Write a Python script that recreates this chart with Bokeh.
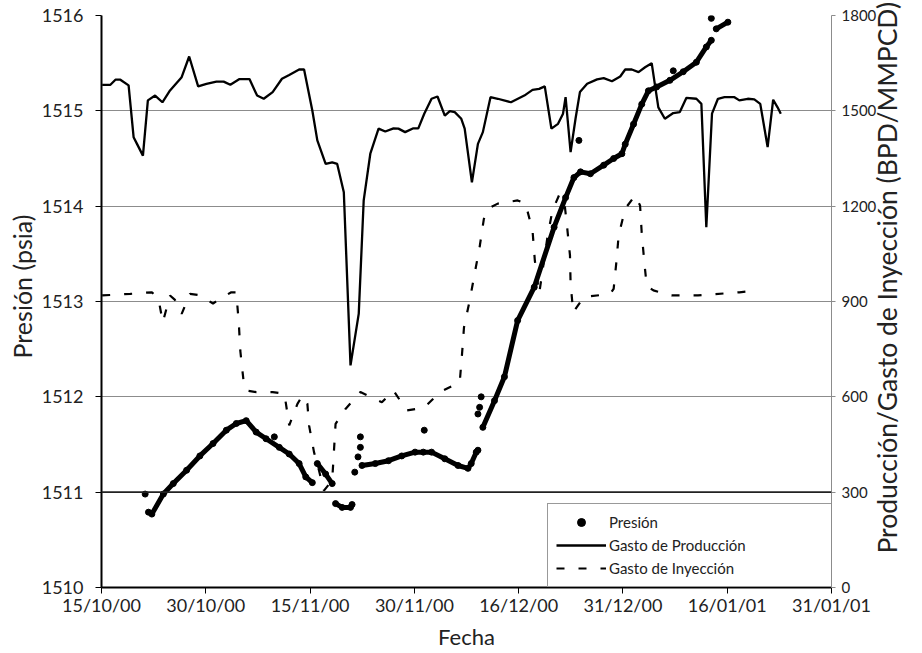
import math
from bokeh.plotting import figure
from bokeh.models import (Range1d, LinearAxis, FixedTicker, Legend, LegendItem, Span, Title)
from bokeh.embed import file_html
from bokeh.resources import INLINE

nan = float("nan")

# x axis: days since 15/10/00
tick_days = [0, 15.43, 30.86, 46.29, 61.71, 77.14, 92.57, 108]
tick_labels = ["15/10/00", "30/10/00", "15/11/00", "30/11/00", "16/12/00", "31/12/00", "16/01/01", "31/01/01"]
left_ticks = [1510, 1511, 1512, 1513, 1514, 1515, 1516]
right_ticks = [0, 300, 600, 900, 1200, 1500, 1800]

# Gasto de Producción (BPD)
prod_day = [0.1, 1.32, 2.06, 2.79, 4.01, 4.75, 5.25, 6.13, 6.86, 7.93, 9.01, 10.14, 11.86, 12.97, 14.3,
            15.53, 17.0, 18.07, 19.06, 20.42, 21.89, 23.02, 24.0, 25.32, 26.7, 27.77, 29.24, 29.97, 31.19,
            31.93, 33.16, 34.13, 34.87, 35.85, 36.84, 38.06, 38.79, 39.77, 40.99, 41.98, 43.2, 43.93, 44.92,
            46.14, 46.87, 47.75, 48.83, 49.71, 50.79, 51.53, 52.26, 53.23, 53.73, 54.8, 55.69, 56.42, 57.55,
            58.63, 60.58, 62.55, 63.77, 64.75, 65.58, 66.56, 67.54, 68.28, 68.66, 69.4, 70.13, 70.78, 71.85,
            73.32, 74.3, 75.52, 76.74, 77.48, 78.46, 79.45, 80.42, 81.4, 81.89, 82.38, 83.35, 84.59, 85.56,
            86.54, 88.01, 88.75, 89.48, 90.32, 91.2, 92.17, 93.64, 94.37, 95.61, 96.58, 97.46, 98.55, 99.37,
            100.02, 100.5]
prod_rate = [1582, 1582, 1598, 1598, 1580, 1417, 1396, 1359, 1533, 1548, 1527, 1564, 1606, 1671, 1577,
             1585, 1592, 1592, 1582, 1600, 1600, 1548, 1538, 1559, 1601, 1613, 1630, 1630, 1501,
             1407, 1333, 1338, 1333, 1244, 699, 862, 1218, 1365, 1444, 1435, 1445, 1444, 1433,
             1445, 1445, 1491, 1538, 1545, 1485, 1499, 1496, 1475, 1444, 1275, 1396, 1433, 1543,
             1538, 1527, 1548, 1566, 1569, 1577, 1444, 1459, 1491, 1543, 1370, 1475, 1559, 1585,
             1599, 1603, 1593, 1608, 1630, 1630, 1622, 1637, 1650, 1580, 1511, 1475, 1493, 1496,
             1541, 1538, 1522, 1134, 1491, 1538, 1543, 1543, 1533, 1538, 1536, 1522, 1386, 1535,
             1511, 1491]

# Gasto de Inyección (MMPCD)
inj_day = [0.1, 4.26, 7.45, 8.42, 9.07, 10.14, 10.87, 11.86, 13.08, 14.8, 16.5, 17.23, 19.2, 19.94, 20.32,
           20.53, 21.01, 21.41, 22.88, 25.32, 27.04, 27.29, 27.77, 28.99, 29.72, 30.46, 30.71, 31.44, 32.18,
           32.91, 34.13, 34.63, 36.1, 38.3, 41.48, 43.2, 45.15, 47.75, 50.06, 53.0, 53.34, 53.63, 54.47,
           55.2, 55.94, 56.57, 57.16, 58.63, 61.56, 62.78, 62.93, 63.77, 64.11, 64.75, 65.97, 66.71, 67.69,
           68.43, 68.91, 69.31, 69.4, 69.79, 71.36, 75.27, 75.77, 76.15, 76.51, 77.48, 78.95, 79.68, 79.93,
           80.33, 80.66, 81.65, 84.34, 88.26, 94.37, 97.08]
inj_rate = [919, 924, 929, 909, 835, 919, 905, 861, 924, 919, 893, 905, 929, 929, 830,
            746, 651, 620, 615, 615, 610, 578, 510, 578, 604, 578, 510, 426, 368,
            305, 337, 515, 562, 615, 583, 620, 557, 566, 615, 646, 735, 819, 903,
            987, 1071, 1160, 1192, 1208, 1218, 1208, 1192, 1123, 1029, 924, 1102, 1186, 1234,
            1223, 1129, 1045, 956, 866, 914, 924, 940, 1019, 1108, 1192, 1234, 1202, 1113,
            1019, 950, 935, 919, 919, 929, 935]

# Presión (psia): dense record (nan = gap between runs) and scattered readings
pres_day = [6.95, 7.45, 9.15, 10.62, 12.59, 14.55, 16.5, 18.47, 19.94, 21.41, 22.88, 24.35, 26.3, 27.77,
            29.24, 30.22, 31.19, nan, 31.93, 33.16, 34.13, nan, 34.63, 35.6, 36.84, 37.07, nan,
            38.54, 40.51, 42.46, 44.42, 46.39, 47.61, 48.83, 50.79, 52.75, 54.22, 54.7, 55.44, 55.69, nan,
            56.42, 58.14, 59.61, 61.56, 64.02, 66.96, 68.66, 69.89, 70.87, 72.33, 74.3, 75.77, 76.99,
            77.48, 78.71, 79.93, 80.91, 82.13, 84.09, 86.06, 88.01, 89.48, 90.22, nan, 90.95, 92.67]
pres_psia = [1510.79, 1510.77, 1510.98, 1511.09, 1511.23, 1511.38, 1511.51, 1511.65, 1511.72, 1511.75,
             1511.63, 1511.56, 1511.47, 1511.40, 1511.30, 1511.16, 1511.10, nan, 1511.30, 1511.19,
             1511.09, nan, 1510.88, 1510.84, 1510.84, 1510.87, nan, 1511.28, 1511.30, 1511.33,
             1511.38, 1511.42, 1511.42, 1511.42, 1511.35, 1511.28, 1511.25, 1511.30, 1511.42,
             1511.44, nan, 1511.68, 1511.96, 1512.21, 1512.80, 1513.15, 1513.78, 1514.09, 1514.30,
             1514.36, 1514.34, 1514.43, 1514.50, 1514.55, 1514.65, 1514.86, 1515.07, 1515.21,
             1515.25, 1515.32, 1515.41, 1515.51, 1515.67, 1515.74, nan, 1515.86, 1515.93]
iso_day = [6.46, 25.57, 37.47, 37.95, 38.3, 38.3, 47.75, 55.69, 55.94, 56.17, 70.63, 84.59, 90.22]
iso_psia = [1510.98, 1511.58, 1511.21, 1511.37, 1511.47, 1511.58, 1511.65, 1511.82, 1511.89, 1512.0,
            1514.69, 1515.42, 1515.97]

FONT = "Lato"
TXT = "#222222"

p = figure(width=922, height=653, x_range=Range1d(0, 108), y_range=Range1d(1510, 1516),
           output_backend="svg", toolbar_location=None,
           min_border_left=101, min_border_right=86, min_border_top=15, min_border_bottom=66)
p.outline_line_color = None
p.background_fill_color = "white"

p.extra_y_ranges = {"rate": Range1d(0, 1800)}

# grid
p.xgrid.grid_line_color = None
p.ygrid.ticker = FixedTicker(ticks=left_ticks)
p.ygrid.grid_line_color = "#8c8c8c"
p.ygrid.grid_line_width = 1
p.add_layout(Span(location=1511, dimension="width", line_color="#222222", line_width=1.6))

# axes
xa = p.xaxis[0]
xa.ticker = FixedTicker(ticks=tick_days)
xa.major_label_overrides = {t: l for t, l in zip(tick_days, tick_labels)}
xa.axis_label = "Fecha"
ya = p.yaxis[0]
ya.ticker = FixedTicker(ticks=left_ticks)

right_title = "Producción/Gasto de Inyección (BPD/MMPCD)"
ra = LinearAxis(y_range_name="rate", ticker=FixedTicker(ticks=right_ticks))
aligned = False
if hasattr(ra, "axis_label_align"):
    for choice in ("start", "left"):
        try:
            ra.axis_label_align = choice
            aligned = True
            break
        except Exception:
            pass
if aligned:
    # read bottom to top, starting just above the bottom of the axis
    ra.axis_label_orientation = math.pi / 2
    ra.axis_label = "\u00a0" * 5 + right_title
    ra.axis_label_standoff = 8
else:
    ra.axis_label = right_title
    ra.axis_label_standoff = 4
p.add_layout(ra, "right")

for ax in (xa, ya, ra):
    ax.axis_label_text_font = FONT
    ax.axis_label_text_font_style = "normal"
    ax.axis_label_text_color = TXT
    ax.major_label_text_font = FONT
    ax.major_label_text_color = TXT
    ax.minor_tick_line_color = None
    ax.major_tick_in = 0
    ax.major_tick_out = 6

xa.axis_line_width = 2
xa.axis_line_color = "black"
xa.major_tick_line_color = "black"
xa.axis_label_text_font_size = "22px"
xa.major_label_text_font_size = "18px"
xa.major_label_standoff = 0
xa.axis_label_standoff = 4
ya.axis_line_width = 2
ya.axis_line_color = "black"
ya.major_tick_line_color = "black"
ya.major_label_text_font_size = "18px"
ya.major_label_standoff = 12
ra.axis_line_color = "#8c8c8c"
ra.major_tick_line_color = "#8c8c8c"
ra.major_tick_out = 4
ra.major_label_standoff = 6
ra.major_label_text_font_size = "15px"
ra.axis_label_text_font_size = "26.5px"

# left axis title, placed beside the tick labels (reads bottom to top)
p.add_layout(Title(text="Presión (psia)", align="left", offset=229, text_font=FONT,
                   text_font_size="25px", text_font_style="normal", text_color=TXT,
                   standoff=4), "left")

# series
prod_r = p.line(prod_day, prod_rate, y_range_name="rate", line_color="black", line_width=2.3)
inj_r = p.line(inj_day, inj_rate, y_range_name="rate", line_color="black", line_width=2.2,
               line_dash="8 14")
p.line(pres_day, pres_psia, line_color="black", line_width=5, line_join="round", line_cap="round")
pres_r = p.scatter(pres_day, pres_psia, marker="circle", size=6, color="black")
p.scatter(iso_day, iso_psia, marker="circle", size=6, color="black")

legend = Legend(items=[LegendItem(label="Presión", renderers=[pres_r]),
                       LegendItem(label="Gasto de Producción", renderers=[prod_r]),
                       LegendItem(label="Gasto de Inyección", renderers=[inj_r])],
                location=(446, 0))
legend.label_text_font = FONT
legend.label_text_font_size = "15px"
legend.label_text_color = TXT
legend.padding = 8
legend.spacing = 3
legend.glyph_width = 50
legend.glyph_height = 20
legend.label_height = 20
legend.label_standoff = 3
legend.label_width = 226
legend.margin = 0
legend.border_line_color = "#333333"
legend.border_line_width = 1
legend.background_fill_alpha = 1.0
p.add_layout(legend, "center")

open("out.html", "w").write(file_html(p, INLINE))
